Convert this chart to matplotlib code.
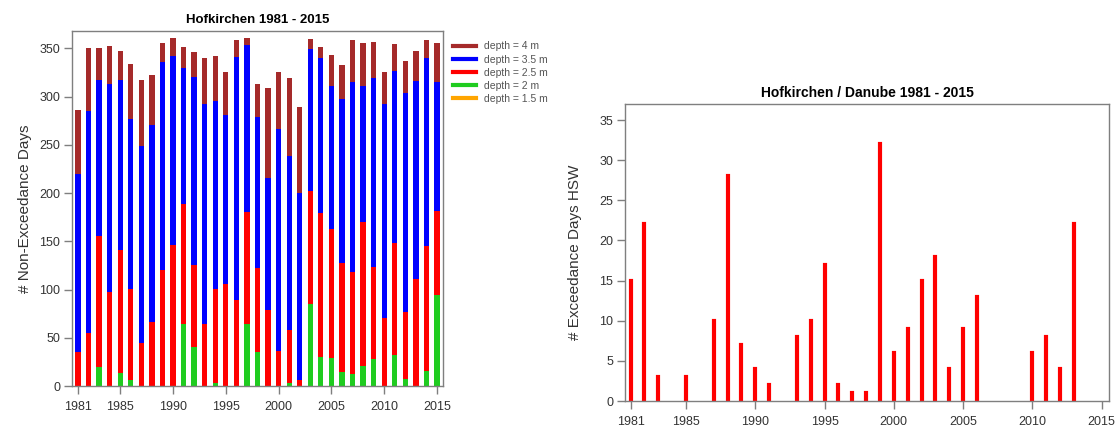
import numpy as np
import matplotlib
matplotlib.use("Agg")
import matplotlib.pyplot as plt
from matplotlib.lines import Line2D

plt.rcParams['font.family'] = ['Liberation Sans', 'DejaVu Sans']

# years
YEARS = list(range(1981, 2016))

# non-exceedance days (cumulative: days with depth below given level)
DEPTH_4 = [286, 350, 350, 352, 347, 334, 317, 322, 356, 361, 351, 346,
           340, 342, 326, 359, 361, 313, 309, 325, 319, 289, 360, 351,
           343, 333, 359, 356, 357, 326, 355, 337, 347, 359, 356]
DEPTH_35 = [220, 285, 317, 313, 317, 277, 249, 271, 336, 342, 330, 320,
            292, 295, 281, 341, 354, 279, 216, 266, 238, 200, 349, 340,
            311, 298, 315, 311, 319, 292, 327, 304, 316, 340, 315]
DEPTH_25 = [35, 55, 155, 97, 141, 101, 45, 66, 120, 146, 189, 125,
            64, 101, 106, 89, 180, 122, 79, 36, 58, 6, 202, 179,
            163, 128, 118, 170, 123, 71, 148, 77, 111, 145, 181]
DEPTH_2 = [0, 0, 20, 0, 14, 6, 0, 0, 0, 0, 64, 40,
           0, 3, 0, 0, 64, 35, 0, 0, 3, 0, 85, 30,
           29, 15, 12, 21, 28, 0, 32, 7, 0, 16, 94]
DEPTH_15 = [0] * 35

# exceedance days HSW
HSW_DAYS = [15, 22, 3, 0, 3, 0, 10, 28, 7, 4, 2, 0, 8, 10, 17, 2, 1, 1,
            32, 6, 9, 15, 18, 4, 9, 13, 0, 0, 0, 6, 8, 4, 22, 0, 0]

LABELS = ["depth = 4 m", "depth = 3.5 m", "depth = 2.5 m", "depth = 2 m", "depth = 1.5 m"]
COLORS = ["#A52A2A", "#0000FF", "#FF0000", "#1FCC1F", "#FFA500"]
XTICKS = [1981, 1985, 1990, 1995, 2000, 2005, 2010, 2015]

GREY = "#7F7F7F"
TXT = "#333333"


def style_axes(ax):
	for s in ax.spines.values():
		s.set_color(GREY)
		s.set_linewidth(1.0)
	ax.tick_params(colors=GREY, labelcolor=TXT, labelsize=9, length=5.5, width=1, pad=3)
	ax.tick_params(axis='x', pad=5)
	ax.set_xticks(XTICKS)


fig = plt.figure(figsize=(11.19, 4.33), dpi=100)

# left chart - overlaid bars, deepest level first
ax1 = fig.add_axes([0.0643, 0.1085, 0.3316, 0.8199])
series = [DEPTH_4, DEPTH_35, DEPTH_25, DEPTH_2, DEPTH_15]
for vals, col in zip(series, COLORS):
	ax1.bar(YEARS, vals, width=0.5, color=col, linewidth=0)
ax1.set_xlim(1980.43, 2015.57)
ax1.set_ylim(0, 368)
ax1.set_yticks(range(0, 351, 50))
style_axes(ax1)
ax1.set_title("Hofkirchen 1981 - 2015", fontsize=9.5, fontweight="bold", pad=6)
ax1.set_ylabel("# Non-Exceedance Days", fontsize=11, color=TXT, labelpad=5)

handles = [Line2D([0], [0], color=c, lw=3) for c in COLORS]
leg = fig.legend(handles, LABELS, loc="upper left", bbox_to_anchor=(0.401, 0.914),
                 frameon=False, fontsize=7.5, handlelength=2.2, handletextpad=0.8,
                 labelspacing=0.3, borderaxespad=0)
for t in leg.get_texts():
	t.set_color("#555555")

# right chart - vertical lines like R type="h"
ax2 = fig.add_axes([0.5585, 0.0739, 0.4326, 0.6859])
yrs = np.array(YEARS)
hsw = np.array(HSW_DAYS)
m = hsw > 0
ax2.vlines(yrs[m], 0, hsw[m], colors="#FF0000", linewidth=3, capstyle="projecting")
ax2.set_xlim(1980.59, 2015.54)
ax2.set_ylim(0, 37)
ax2.set_yticks(range(0, 36, 5))
style_axes(ax2)
ax2.set_title("Hofkirchen / Danube 1981 - 2015", fontsize=10, fontweight="bold", pad=5)
ax2.set_ylabel("# Exceedance Days HSW", fontsize=11, color=TXT, labelpad=12)

fig.savefig("out.png", dpi=100)
